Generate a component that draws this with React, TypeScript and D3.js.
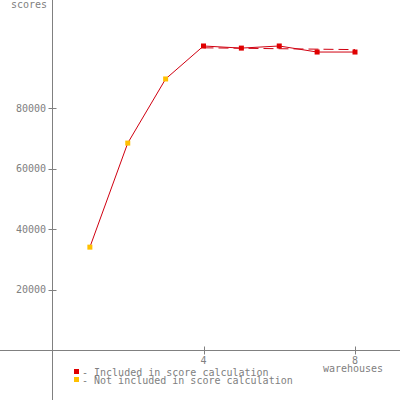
import React from "react";
import * as d3 from "d3";

const warehouses = [1, 2, 3, 4, 5, 6, 7, 8];
const scores = [34000, 68400, 89600, 100500, 99800, 100500, 98500, 98500];
const included = [false, false, false, true, true, true, true, true];
const scoreLineX = [4, 8];
const scoreLineY = [99900, 99300];
const yTicks = [20000, 40000, 60000, 80000];
const xTicks = [4, 8];
const legendLabels = ["- Included in score calculation", "- Not included in score calculation"];

const W = 400;
const H = 400;
const FONT = "'DejaVu Sans Mono', monospace";
const GRAY = "#808080";
const RED = "#e00000";
const YELLOW = "#ffc000";
const LINE = "#d00010";

export default function App() {
  const x = d3.scaleLinear().domain([0, 8]).range([52, 355]);
  const y = d3.scaleLinear().domain([0, 100000]).range([350, 47.5]);
  const line = d3
    .line<number>()
    .x((_, i) => x(warehouses[i]))
    .y((d) => y(d));
  const ax = Math.round(x(0)) + 0.5;
  const ay = Math.round(y(0)) + 0.5;
  return (
    <svg
      width={W}
      height={H}
      style={{ position: "fixed", left: 0, top: 0, background: "#fff" }}
      fontFamily={FONT}
      fontSize={10}
    >
      <rect width={W} height={H} fill="#fff" />
      <line x1={ax} x2={ax} y1={0} y2={H} stroke={GRAY} />
      <line x1={0} x2={W} y1={ay} y2={ay} stroke={GRAY} />
      {yTicks.map((t) => (
        <g key={t}>
          <line x1={ax - 4} x2={ax + 4} y1={Math.round(y(t)) + 0.5} y2={Math.round(y(t)) + 0.5} stroke={GRAY} />
          <text x={46} y={y(t) + 3.5} textAnchor="end" fill={GRAY}>
            {t}
          </text>
        </g>
      ))}
      {xTicks.map((t) => (
        <g key={t}>
          <line x1={Math.round(x(t)) + 0.5} x2={Math.round(x(t)) + 0.5} y1={ay - 4} y2={ay + 4} stroke={GRAY} />
          <text x={x(t)} y={ay + 13} textAnchor="middle" fill={GRAY}>
            {t}
          </text>
        </g>
      ))}
      <text x={353} y={372} textAnchor="middle" fill={GRAY}>
        warehouses
      </text>
      <text x={47} y={8} textAnchor="end" fill={GRAY}>
        scores
      </text>
      <line
        x1={x(scoreLineX[0])}
        x2={x(scoreLineX[1])}
        y1={y(scoreLineY[0])}
        y2={y(scoreLineY[1])}
        stroke={LINE}
        strokeDasharray="10,5"
      />
      <path d={line(scores) || ""} fill="none" stroke={LINE} strokeWidth={1} />
      {scores.map((s, i) => (
        <rect
          key={i}
          x={x(warehouses[i]) - 2.5}
          y={y(s) - 2.5}
          width={5}
          height={5}
          fill={included[i] ? RED : YELLOW}
        />
      ))}
      {legendLabels.map((l, i) => (
        <g key={l}>
          <rect x={74} y={369 + i * 8} width={5} height={5} fill={i === 0 ? RED : YELLOW} />
          <text x={82} y={376 + i * 8} fill={GRAY}>
            {l}
          </text>
        </g>
      ))}
    </svg>
  );
}
